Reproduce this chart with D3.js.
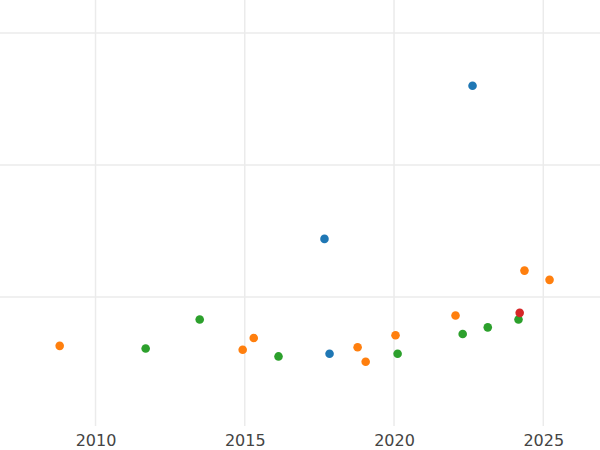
<!DOCTYPE html>
<html>
<head>
<meta charset="utf-8">
<script src="https://cdn.jsdelivr.net/npm/d3@7"></script>
<style>
  body { margin: 0; background: #fff; }
  text { font-family: "DejaVu Sans", sans-serif; }
</style>
</head>
<body>
<svg id="chart" width="600" height="450"></svg>
<script>
// data (y has no labels, arbitrary units)
var blueYears = [2022.63, 2017.67, 2017.84]
var blueVals = [2.60, 1.44, 0.57]
var orangeYears = [2008.80, 2014.93, 2015.30, 2018.78, 2019.05, 2020.05, 2022.06, 2024.37, 2025.21]
var orangeVals = [0.63, 0.60, 0.69, 0.62, 0.51, 0.71, 0.86, 1.20, 1.13]
var greenYears = [2011.68, 2013.49, 2016.13, 2020.12, 2022.30, 2023.14, 2024.17]
var greenVals = [0.61, 0.83, 0.55, 0.57, 0.72, 0.77, 0.83]
var redYears = [2024.21]
var redVals = [0.88]
var xTicks = [2010, 2015, 2020, 2025]
var yGrid = [1, 2, 3]

var svg = d3.select("#chart")
var x = d3.scaleLinear().domain([2006.80, 2026.90]).range([0, 600])
var y = d3.scaleLinear().domain([0.023, 3.242]).range([426, 1])

// gridlines
svg.append("g").selectAll("line").data(yGrid).enter().append("line")
    .attr("x1", 0).attr("x2", 600)
    .attr("y1", d => y(d)).attr("y2", d => y(d))
    .attr("stroke", "#ebebeb").attr("stroke-width", 1.5)
svg.append("g").selectAll("line").data(xTicks).enter().append("line")
    .attr("x1", d => x(d)).attr("x2", d => x(d))
    .attr("y1", 0).attr("y2", 426)
    .attr("stroke", "#ebebeb").attr("stroke-width", 1.5)

// x axis
var xAxis = svg.append("g").attr("transform", "translate(0,426)")
    .call(d3.axisBottom(x).tickValues(xTicks).tickFormat(d3.format("d")).tickSize(0).tickPadding(9))
xAxis.select(".domain").remove()
xAxis.selectAll("text").attr("fill", "#444").style("font-size", "16px")

var series = [
    [blueYears, blueVals, "#1f77b4"],
    [orangeYears, orangeVals, "#ff7f0e"],
    [greenYears, greenVals, "#2ca02c"],
    [redYears, redVals, "#d62728"]
]
series.forEach(function (s) {
    svg.append("g").selectAll("circle").data(s[0]).enter().append("circle")
        .attr("cx", d => x(d))
        .attr("cy", (d, i) => y(s[1][i]))
        .attr("r", 4.3)
        .attr("fill", s[2])
})
</script>
</body>
</html>
